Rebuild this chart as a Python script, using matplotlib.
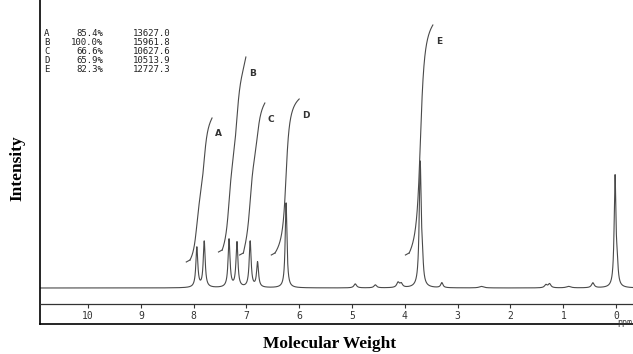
import numpy as np
import matplotlib.pyplot as plt

# ============================================================
# DATA (heights in arbitrary units
# measured above the baseline)
# ============================================================

# line positions [ppm], heights and half widths [ppm]
peak_ppm = [7.94, 7.80, 7.33, 7.18, 6.93, 6.79, 6.25, 3.71, 3.67, 0.02, -0.02,
            4.94, 4.56, 4.13, 4.07, 3.30, 1.33, 1.26, 0.44, 0.90, 2.55]
peak_height = [40, 46, 48, 45, 46, 25, 85, 123, 20, 110, 17,
               4, 3, 5, 4, 5, 3, 4, 5, 1.5, 1.5]
peak_hwhm = [0.022, 0.022, 0.022, 0.022, 0.022, 0.022, 0.020, 0.022, 0.02, 0.02, 0.02,
             0.03, 0.03, 0.03, 0.03, 0.025, 0.03, 0.03, 0.03, 0.05, 0.05]

# integral traces: region, start level, end level
integral_names = ["A", "B", "C", "D", "E"]
integral_from = [8.07, 7.46, 7.06, 6.46, 3.92]
integral_to = [7.65, 7.01, 6.65, 6.00, 3.47]
integral_low = [28, 38, 35, 35, 35]
integral_high = [170, 231, 185, 189, 263]

# integration report printed in the corner
report_pct = ["85.4%", "100.0%", "66.6%", "65.9%", "82.3%"]
report_val = ["13627.0", "15961.8", "10627.6", "10513.9", "12727.3"]

ticks = list(range(0, 11))

# ============================================================
# BUILD TRACE
# ============================================================

ppm = np.linspace(10.95, -0.35, 6000)
spec = np.zeros_like(ppm)
# the integrator of the old recorder lags a bit -> smoother copy for integrals
spec_int = np.zeros_like(ppm)
for p, h, w in zip(peak_ppm, peak_height, peak_hwhm):
    spec += h / (1.0 + ((ppm - p) / w) ** 2)
    spec_int += h / (1.0 + ((ppm - p) / (2.5 * w)) ** 2)

# ============================================================
# PLOT
# ============================================================

W, H = 633, 354
fig = plt.figure(figsize=(W / 100, H / 100), dpi=100)
ax = fig.add_axes([40 / W, 30 / H, 593 / W, 324 / H])

LINE = "#4a4a4a"
ax.plot(ppm, spec, color=LINE, lw=0.8)

for name, a, b, lo, hi in zip(integral_names, integral_from, integral_to,
                              integral_low, integral_high):
    m = (ppm <= a) & (ppm >= b)
    cum = np.cumsum(spec_int[m])
    cum = (cum - cum[0]) / (cum[-1] - cum[0])
    ax.plot(ppm[m], lo + (hi - lo) * cum, color=LINE, lw=0.8)
    # little hook at the start of each integral
    ax.plot([a + 0.07, a], [lo - 2, lo], color=LINE, lw=0.8)
    ax.annotate(name, (b, hi), xytext=(3, -16), textcoords="offset pixels",
                fontsize=6.5, family="DejaVu Sans", weight="bold",
                color="#333333", ha="left", va="center")

ax.set_xlim(10.91, -0.32)
ax.set_ylim(-36, 288)

ax.spines["top"].set_visible(False)
ax.spines["right"].set_visible(False)
ax.spines["left"].set_linewidth(1.2)
ax.spines["bottom"].set_position(("data", -16))
ax.spines["bottom"].set_color("#333333")
ax.spines["bottom"].set_linewidth(0.9)
# outer frame line under the scale
ax.plot([0, 1], [0, 0], transform=ax.transAxes, color="black", lw=1.2,
        clip_on=False)

ax.set_yticks([])
ax.set_xticks(ticks)
ax.set_xticklabels([str(t) for t in ticks], family="DejaVu Sans Mono",
                   fontsize=7, color="#333333")
ax.tick_params(axis="x", direction="out", length=3, width=0.8, pad=2,
               color="#333333")
ax.text(0.9995, 6 / 324, "ppm", transform=ax.transAxes,
        family="DejaVu Sans Mono", fontsize=6, color="#333333",
        ha="right", va="top")

# integration report
for i in range(len(integral_names)):
    y = 1 - (34 + 8.8 * i) / H
    fig.text(44 / W, y, integral_names[i], family="DejaVu Sans Mono",
             fontsize=6.5, va="center", ha="left", color="#222222")
    fig.text(103 / W, y, report_pct[i], family="DejaVu Sans Mono",
             fontsize=6.5, va="center", ha="right", color="#222222")
    fig.text(133 / W, y, report_val[i], family="DejaVu Sans Mono",
             fontsize=6.5, va="center", ha="left", color="#222222")

fig.text(330 / W, 1 - 344 / H, "Molecular Weight", family="Liberation Serif",
         weight="bold", fontsize=12.5, ha="center", va="center")
fig.text(17 / W, 1 - 168 / H, "Intensity", family="Liberation Serif",
         weight="bold", fontsize=12.5, rotation=90, ha="center", va="center")

fig.savefig("out.png", dpi=100)
